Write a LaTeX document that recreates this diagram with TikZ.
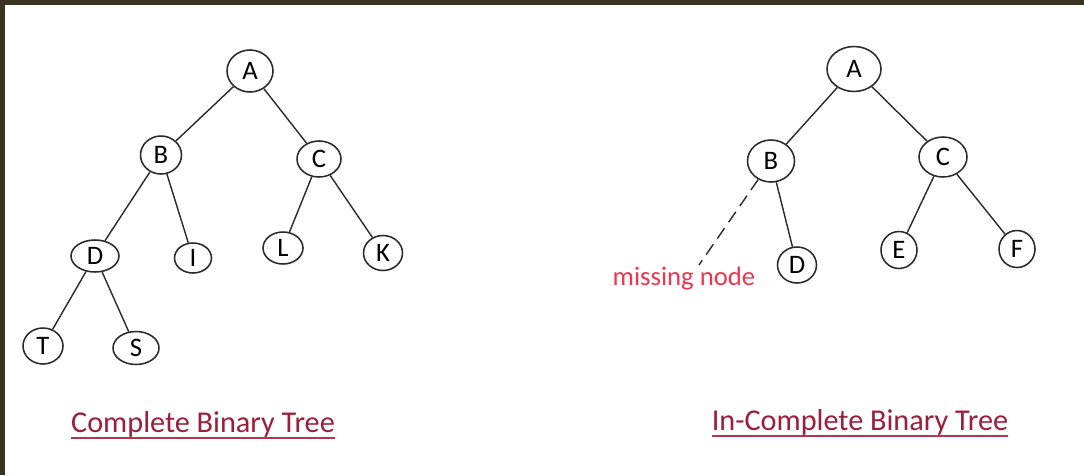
\documentclass[tikz,border=0pt]{standalone}
\usepackage{fontspec}
\setmainfont{Carlito}
\usetikzlibrary{shapes.geometric}
\definecolor{edgegray}{HTML}{2A2A2A}
\definecolor{titlered}{HTML}{9C1E3A}
\definecolor{rulered}{HTML}{B4364E}
\definecolor{notered}{HTML}{F2354F}
\definecolor{framebrown}{HTML}{3A3222}
\begin{document}
\begin{tikzpicture}[x=0.025cm, y=-0.025cm,
  vertex/.style={ellipse, draw=edgegray, line width=1.1pt, inner sep=0pt, font=\fontsize{19}{19}\selectfont},
  link/.style={draw=edgegray, line width=1pt},
  title/.style={font=\fontsize{21.5}{22}\selectfont, text=titlered, inner sep=0pt}]
% page and dark frame on top and left
\fill[white] (0,0) rectangle (1084,475);
\fill[framebrown] (0,0) rectangle (1084,5);
\fill[framebrown] (0,0) rectangle (5,475);

% complete tree
\foreach \n/\x/\y/\w/\h/\t in {lA/250/71/46/42/A, lB/161/155/41/38/B, lC/319/159/44/36/C,
    lD/95/256/48/32/D, lI/193/258/37/30/I, lL/283/248/40/32/L, lK/383/253/39/35/K,
    lT/43/346/40/36/T, lS/136/348/46/33/S}
  \node[vertex, minimum width=\w*0.025cm, minimum height=\h*0.025cm] (\n) at (\x,\y) {\t};
\draw[link] (lA) -- (lB);
\draw[link] (lA) -- (lC);
\draw[link] (lB) -- (lD);
\draw[link] (lB) -- (lI);
\draw[link] (lC) -- (lL);
\draw[link] (lC) -- (lK);
\draw[link] (lD) -- (lT);
\draw[link] (lD) -- (lS);

% incomplete tree, B has no left child
\foreach \n/\x/\y/\w/\h/\t in {rA/854/69/54/45/A, rB/771/161/47/42/B, rC/943/157/48/40/C,
    rD/797/265/39/36/D, rE/899/250/36/37/E, rF/1017/249/36/37/F}
  \node[vertex, minimum width=\w*0.025cm, minimum height=\h*0.025cm] (\n) at (\x,\y) {\t};
\draw[link] (rA) -- (rB);
\draw[link] (rA) -- (rC);
\draw[link] (rB) -- (rD);
\draw[link] (rC) -- (rE);
\draw[link] (rC) -- (rF);
\coordinate (gap) at (699,265);
\draw[link, dash pattern=on 9pt off 5pt] (rB) -- (gap);
\node[text=notered, font=\fontsize{19}{19}\selectfont, inner sep=0pt] (miss) at (684,279) {missing node};

% captions
\node[title] (cap1) at (203,424) {Complete Binary Tree};
\node[title] (cap2) at (860,422) {In-Complete Binary Tree};
\draw[rulered, line width=1.6pt] ([yshift=-4pt]cap1.base west) -- ([yshift=-4pt]cap1.base east);
\draw[rulered, line width=1.6pt] ([yshift=-4pt]cap2.base west) -- ([yshift=-4pt]cap2.base east);
\end{tikzpicture}
\end{document}
